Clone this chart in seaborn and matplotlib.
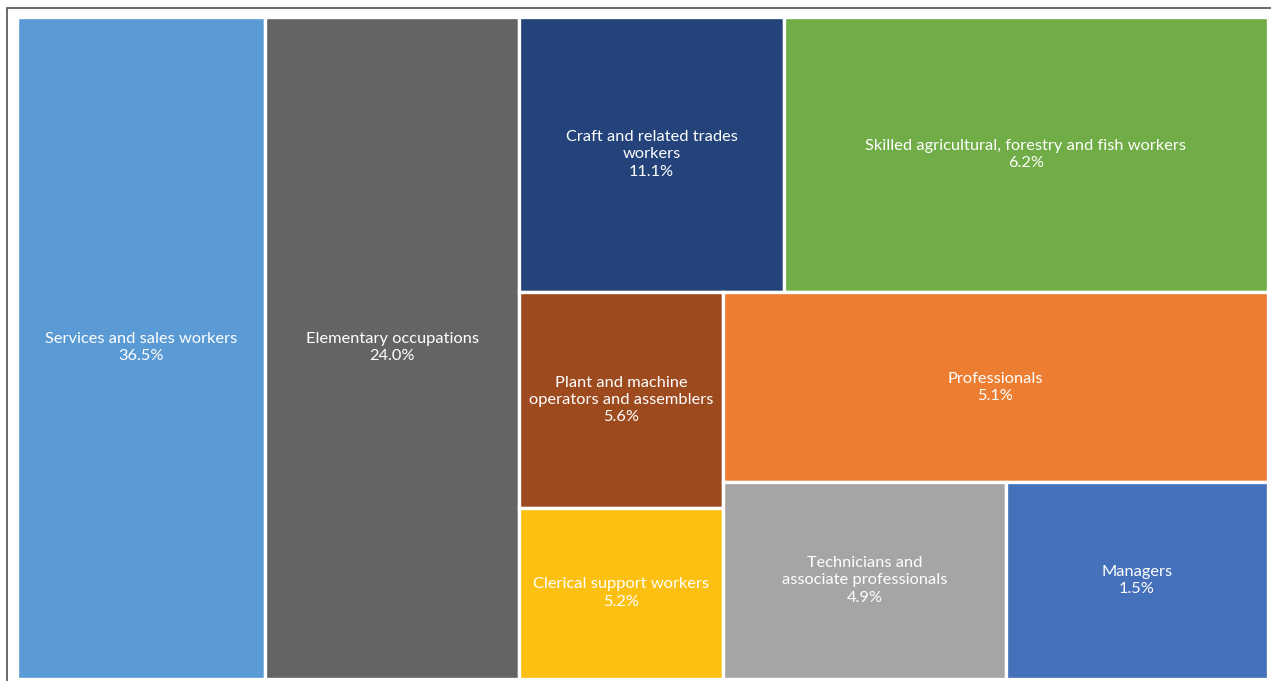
import matplotlib
matplotlib.use("Agg")
import matplotlib.pyplot as plt
from matplotlib.patches import Rectangle
import seaborn as sns

# ---- data ----
categories = [
    "Services and sales workers",
    "Elementary occupations",
    "Craft and related trades\nworkers",
    "Skilled agricultural, forestry and fish workers",
    "Plant and machine\noperators and assemblers",
    "Clerical support workers",
    "Professionals",
    "Technicians and\nassociate professionals",
    "Managers",
]
# area weights (share, %)
sizes = [19.9, 20.3, 8.8, 16.1, 5.3, 4.2, 12.5, 6.7, 6.2]
# percentages printed on the tiles
labels_pct = [36.5, 24.0, 11.1, 6.2, 5.6, 5.2, 5.1, 4.9, 1.5]
colors = ["#5B9BD5", "#636563", "#23437A", "#70AD47", "#9E4A1F",
          "#FBC012", "#ED7D31", "#A5A5A5", "#4570BA"]

# tiling structure (h = side by side, v = stacked)
structure = ("h", [0, 1, ("v", [("h", [2, 3]),
                                ("h", [("v", [4, 5]),
                                       ("v", [6, ("h", [7, 8])])])])])

sns.set_theme(style="white")
plt.rcParams["font.family"] = ["Lato", "DejaVu Sans"]


def total(node):
    if isinstance(node, int):
        return sizes[node]
    return sum(total(c) for c in node[1])


def layout(node, x, y, w, h, out):
    if isinstance(node, int):
        out[node] = (x, y, w, h)
        return
    kind, children = node
    s = total(node)
    pos = 0.0
    for c in children:
        f = total(c) / s
        if kind == "h":
            layout(c, x + pos * w, y, w * f, h, out)
        else:
            layout(c, x, y + pos * h, w, h * f, out)
        pos += f


W, H = 1251, 662
rects = {}
layout(structure, 0, 0, W, H, rects)

fig = plt.figure(figsize=(12.71, 6.81), dpi=100)
ax = fig.add_axes([16.5 / 1271, (681 - 678.5) / 681, W / 1271, H / 681])
ax.set_xlim(0, W)
ax.set_ylim(H, 0)
ax.axis("off")

for i, (x, y, w, h) in rects.items():
    ax.add_patch(Rectangle((x, y), w, h, facecolor=colors[i],
                           edgecolor="white", linewidth=2.4))
    ax.text(x + w / 2, y + h / 2, f"{categories[i]}\n{labels_pct[i]:.1f}%",
            ha="center", va="center", color="white", fontsize=11.8,
            linespacing=1.3)

# outer chart frame (cropped on right and bottom)
fig.patches.append(Rectangle((7 / 1271, -0.05), 1.2, (681 - 8) / 681 + 0.05,
                             transform=fig.transFigure, fill=False,
                             edgecolor="#505050", linewidth=1.2))

fig.savefig("out.png", dpi=100)
